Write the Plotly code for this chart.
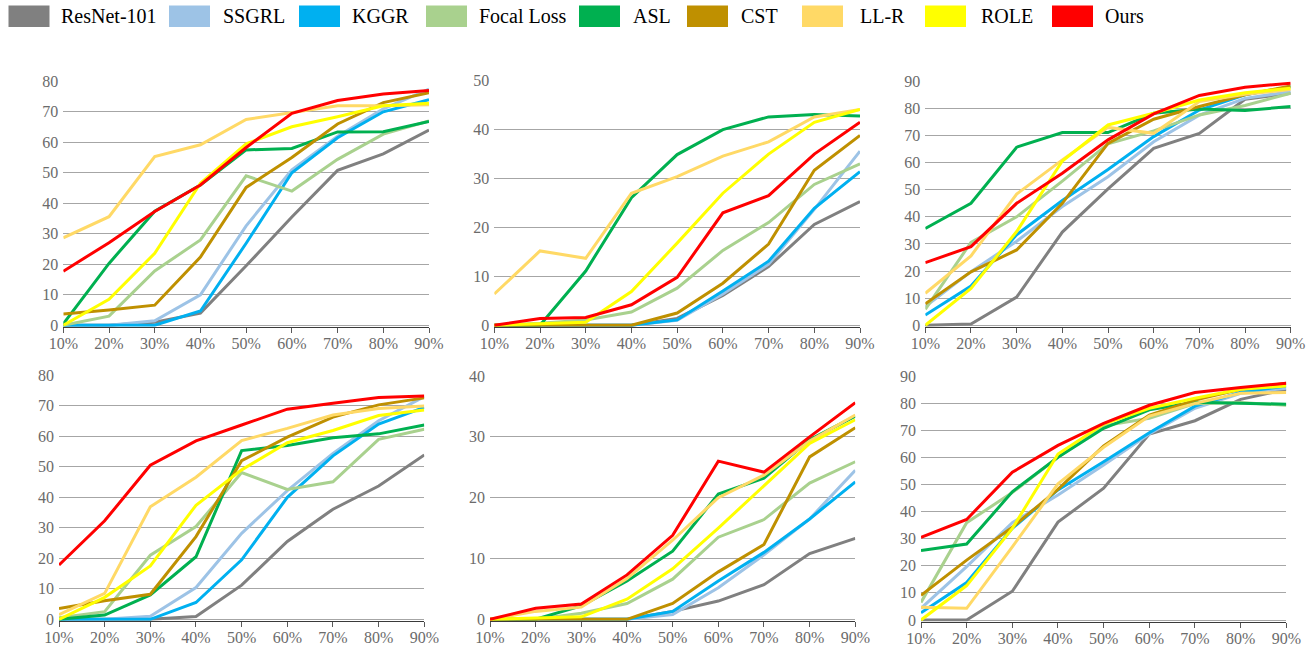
import plotly.graph_objects as go

# ---------------- data ----------------
categories = ['10%', '20%', '30%', '40%', '50%', '60%', '70%', '80%', '90%']
methods = ['ResNet-101', 'SSGRL', 'KGGR', 'Focal Loss', 'ASL', 'CST', 'LL-R', 'ROLE', 'Ours']
colors = ['#808080', '#9DC3E6', '#00B0F0', '#A9D18E', '#00B050', '#BF9000', '#FFD966', '#FFFF00', '#FF0000']

# one row per panel (top-left, top-middle, top-right, bottom-left, bottom-middle, bottom-right)
resnet101 = [
    [0, 0, 1, 4, 19.5, 35.5, 50.8, 56.2, 64],
    [0, 0, 0, 0, 1.4, 6.1, 12, 20.6, 25.3],
    [0, 0.5, 10.4, 34.4, 50.3, 65.3, 70.8, 83.4, 85.6],
    [0, 0, 0, 0.9, 11.2, 25.5, 36.1, 43.7, 53.9],
    [0, 0, 0, 0, 1.3, 3, 5.7, 10.8, 13.3],
    [0, 0, 10.6, 36.1, 48.6, 68.6, 73.5, 81.4, 85.1],
]
ssgrl = [
    [0, 0, 1.5, 10, 32.6, 51, 62, 71, 77.4],
    [0, 0, 0, 0, 1, 6.4, 12.5, 23.7, 35.6],
    [6.9, 19.8, 31, 43.8, 54.8, 67.7, 77.5, 83.7, 86.2],
    [0, 0, 1, 10.4, 28.2, 42.2, 54.4, 65.1, 73],
    [0, 0, 0, 0, 0.8, 5.2, 10.6, 16.5, 24.5],
    [4.3, 19.7, 35.9, 46.1, 57.2, 68.6, 78.1, 83.6, 85.5],
]
kggr = [
    [0, 0, 0, 4.7, 26.9, 50, 61.5, 70, 74],
    [0, 0, 0, 0, 1.1, 7, 13.1, 23.9, 31.4],
    [3.8, 14.5, 33.4, 46, 57.5, 69.6, 79.4, 85, 88],
    [0, 0, 0, 5.5, 19.5, 40, 53.6, 64, 69.5],
    [0, 0, 0, 0, 1.3, 6.3, 11, 16.5, 22.6],
    [2.7, 13.8, 33.8, 48, 58.4, 69.1, 78.9, 84, 86.3],
]
focal_loss = [
    [0, 3, 17.8, 28, 49, 44, 54.4, 62.7, 67],
    [0, 0.4, 1.1, 2.7, 7.6, 15.3, 21, 28.8, 33],
    [5.9, 30.6, 40, 53.2, 66.9, 71.7, 77.6, 81.1, 85.6],
    [0.5, 2.5, 21, 30.4, 48.1, 42.6, 45.1, 59, 62.3],
    [0, 0, 1, 2.6, 6.6, 13.5, 16.4, 22.4, 25.9],
    [6.5, 35.9, 47, 60, 71.6, 74.4, 79.8, 80.2, 79.2],
]
asl = [
    [0.5, 20.3, 37.4, 46, 57.5, 58, 63.4, 63.5, 66.8],
    [0, 0, 11.1, 26.1, 34.9, 40, 42.6, 43.1, 42.8],
    [35.7, 45, 65.7, 71.1, 71.1, 78.2, 79.8, 79.2, 80.7],
    [0, 1.4, 8, 20.5, 55.3, 57, 59.5, 60.8, 63.7],
    [0, 0, 2.2, 6.3, 11.2, 20.6, 23.2, 29.5, 33.4],
    [25.6, 28, 47.3, 60, 70.7, 77.5, 80.3, 79.9, 79.6],
]
cst = [
    [3.7, 5, 6.6, 22.4, 45.2, 55, 66, 73, 76.3],
    [0, 0, 0, 0, 2.5, 8.6, 16.6, 31.7, 38.8],
    [7.9, 19.7, 27.8, 45, 67.1, 76, 80.7, 85, 88.3],
    [3.5, 6.1, 8.2, 27.1, 52, 59.7, 66.3, 70.3, 72.6],
    [0, 0, 0, 0, 2.6, 7.8, 12.3, 26.7, 31.5],
    [9.1, 22.1, 34.2, 48.2, 64.2, 75.6, 81.1, 85.1, 87.3],
]
ll_r = [
    [28.7, 35.6, 55.3, 59.2, 67.5, 69.7, 72, 72, 72.3],
    [6.4, 15.2, 13.7, 27, 30.4, 34.6, 37.5, 42.6, 44.1],
    [11.8, 25.6, 48.4, 61, 73, 70.8, 82.5, 85.2, 87],
    [1.5, 8.5, 36.9, 46.6, 58.6, 62.6, 67, 69.1, 69.9],
    [0, 1.3, 2, 6.7, 13, 20, 23.7, 29.3, 33.6],
    [4.7, 4.3, 27, 50.2, 63.7, 75.2, 79.9, 83.6, 83.9],
]
role = [
    [0, 8.5, 23.6, 46.6, 59.5, 65.1, 68.4, 72, 72.8],
    [0, 0.3, 0.6, 6.9, 16.8, 27, 35, 41.5, 44.1],
    [0, 13.6, 34.6, 60.6, 73.9, 78.2, 83.1, 85.8, 87.4],
    [0, 7.2, 17.5, 37.4, 49, 57.9, 61.9, 66.8, 68.6],
    [0, 0.2, 0.4, 3.3, 8.3, 15, 21.9, 28.9, 32.8],
    [0, 12.7, 33.8, 61.2, 72.3, 78.1, 81.8, 85.1, 86.3],
]
ours = [
    [17.7, 27.1, 37.3, 46, 58.3, 69.5, 73.7, 75.8, 77],
    [0, 1.4, 1.6, 4.2, 9.8, 23, 26.5, 35, 41.5],
    [23.1, 29, 45, 56.1, 68.4, 78, 84.8, 87.8, 89.3],
    [17.8, 32.3, 50.5, 58.5, 63.7, 68.9, 70.8, 72.7, 73.2],
    [0, 1.8, 2.5, 7.3, 13.8, 26, 24.2, 30, 35.6],
    [30.5, 37.1, 54.5, 64.4, 72.5, 79.2, 83.9, 85.8, 87.3],
]
y_max = [80, 50, 90, 80, 40, 90]

series = [resnet101, ssgrl, kggr, focal_loss, asl, cst, ll_r, role, ours]

# ---------------- layout geometry ----------------
# The page body margin is removed (see post_script), so the figure fills the
# whole 1312x648 window and page pixels map directly onto figure pixels.
W, H = 1312, 648


def fx(px):
    return px / W


def fy(py):
    return 1 - py / H


panel_x = [(63.3, 429), (494.3, 860), (925.3, 1290.7), (59, 424.3), (490, 855.3), (921, 1286.3)]
panel_y0 = [325.3, 325.3, 325.3, 619.3, 619.3, 620]
panel_ytop = [81.3, 80.7, 81.3, 375.3, 376, 376]

FONT = 'Liberation Serif'
TICK_COLOR = '#6b6b6b'

fig = go.Figure()
layout = dict(
    template='none',
    width=W, height=H, autosize=False,
    margin=dict(l=0, r=0, t=0, b=0, pad=0),
    paper_bgcolor='white', plot_bgcolor='white',
    showlegend=False,
    font=dict(family=FONT, size=16, color=TICK_COLOR),
)

for p in range(6):
    n = p + 1
    xa = 'x' if n == 1 else f'x{n}'
    ya = 'y' if n == 1 else f'y{n}'
    ppu = (panel_y0[p] - panel_ytop[p]) / y_max[p]
    off = 1.5
    ymin = -off / ppu
    dom_y = [fy(panel_y0[p] + off), fy(panel_ytop[p])]
    dom_x = [fx(panel_x[p][0]), fx(panel_x[p][1])]
    for m in range(len(methods)):
        fig.add_trace(go.Scatter(
            x=categories, y=series[m][p], name=methods[m], mode='lines',
            line=dict(color=colors[m], width=3),
            xaxis=xa, yaxis=ya, showlegend=False,
        ))
    xkey = 'xaxis' if n == 1 else f'xaxis{n}'
    ykey = 'yaxis' if n == 1 else f'yaxis{n}'
    layout[xkey] = dict(
        domain=dom_x, anchor=ya, type='category', range=[0, 8],
        automargin=False,
        showgrid=False, zeroline=False,
        showline=True, linecolor='#3a3a3a', linewidth=1,
        ticks='outside', ticklen=5, tickcolor='#595959', tickwidth=1,
        ticklabelstandoff=-3,
        tickfont=dict(family=FONT, size=16, color=TICK_COLOR),
        fixedrange=True,
    )
    layout[ykey] = dict(
        domain=dom_y, anchor=xa, range=[ymin, y_max[p]],
        automargin=False,
        tick0=0, dtick=10, showgrid=True, gridcolor='#a6a6a6', gridwidth=1,
        zeroline=False, showline=False, ticks='',
        ticklabelstandoff=4,
        tickfont=dict(family=FONT, size=16, color=TICK_COLOR),
        fixedrange=True,
    )

fig.update_layout(**layout)

# ---------------- legend (top row) ----------------
legend_box_x = [8.5, 169, 299, 426, 579, 687, 802, 925, 1052]
legend_text_x = [60, 221.5, 351.5, 478, 631.5, 740, 859, 980, 1104]
for i, name in enumerate(methods):
    fig.add_shape(type='rect', xref='paper', yref='paper',
                  x0=fx(legend_box_x[i]), x1=fx(legend_box_x[i] + 41),
                  y0=fy(27), y1=fy(5.5),
                  fillcolor=colors[i], line=dict(width=0))
    fig.add_annotation(text=name, xref='paper', yref='paper',
                       x=fx(legend_text_x[i]), y=fy(16.5),
                       xanchor='left', yanchor='middle', showarrow=False,
                       borderpad=0,
                       font=dict(family=FONT, size=20, color='#000000'))

fig.write_html('out.html',
               config={'displayModeBar': False},
               post_script="document.body.style.margin='0px';")
